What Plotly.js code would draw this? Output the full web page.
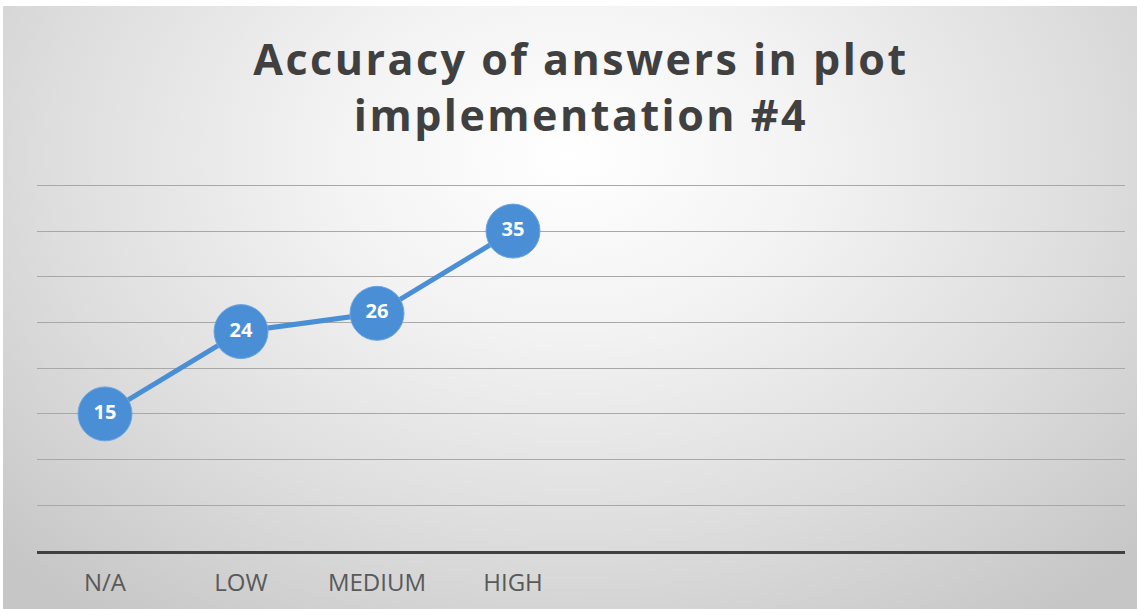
<!DOCTYPE html>
<html>
<head>
<meta charset="utf-8">
<script src="https://cdn.plot.ly/plotly-3.0.1.min.js"></script>
<style>
  html, body { margin: 0; padding: 0; background: #ffffff; width: 1137px; height: 609px; overflow: hidden; }
  #bg { position: absolute; left: 3px; top: 6px; width: 1134px; height: 603px;
        background: radial-gradient(ellipse 70% 95% at 50% 25%, #ffffff 0%, #f3f3f3 30%, #dedede 65%, #c6c6c6 100%); }
  #chart { position: absolute; left: 0; top: 0; width: 1137px; height: 609px; }
  #chart .annotation-text { letter-spacing: 2.5px; }
</style>
</head>
<body>
<div id="bg"></div>
<div id="chart"></div>
<script>
const categories = ['N/A', 'LOW', 'MEDIUM', 'HIGH'];
const values = [15, 24, 26, 35];
const titleText = 'Accuracy of answers in plot<br>implementation #4';

const trace = {
  type: 'scatter',
  mode: 'lines+markers+text',
  x: categories,
  y: values,
  text: values.map(String),
  textposition: 'middle center',
  textfont: { family: 'Open Sans, sans-serif', size: 20, color: '#ffffff', weight: 'bold' },
  line: { color: '#4a8fd6', width: 5 },
  marker: { color: '#4a8fd6', size: 54, line: { color: '#6ba6e3', width: 1 } },
  cliponaxis: false,
  hoverinfo: 'skip'
};

const layout = {
  width: 1137,
  height: 609,
  paper_bgcolor: 'rgba(0,0,0,0)',
  plot_bgcolor: 'rgba(0,0,0,0)',
  margin: { l: 37, r: 12, t: 184, b: 58 },
  showlegend: false,
  annotations: [{
    text: titleText,
    xref: 'paper', yref: 'paper',
    x: 0.5, xanchor: 'center',
    y: 1.265, yanchor: 'middle',
    showarrow: false,
    align: 'center',
    font: { family: 'Open Sans, sans-serif', size: 43, color: '#404040', weight: 'bold' }
  }],
  xaxis: {
    type: 'category',
    categoryorder: 'array',
    categoryarray: categories,
    range: [-0.5, 7.5],
    showline: true,
    linecolor: '#404040',
    linewidth: 3,
    showgrid: false,
    ticks: 'outside',
    ticklen: 8,
    tickcolor: 'rgba(0,0,0,0)',
    tickfont: { family: 'Open Sans, sans-serif', size: 24, color: '#595959' },
    fixedrange: true
  },
  yaxis: {
    range: [0, 40.15],
    tick0: 0,
    dtick: 5,
    showticklabels: false,
    showgrid: true,
    gridcolor: '#a8a8a8',
    gridwidth: 1,
    zeroline: false,
    showline: false,
    ticks: '',
    fixedrange: true
  }
};

Plotly.newPlot('chart', [trace], layout, { displayModeBar: false, staticPlot: true });
</script>
</body>
</html>
